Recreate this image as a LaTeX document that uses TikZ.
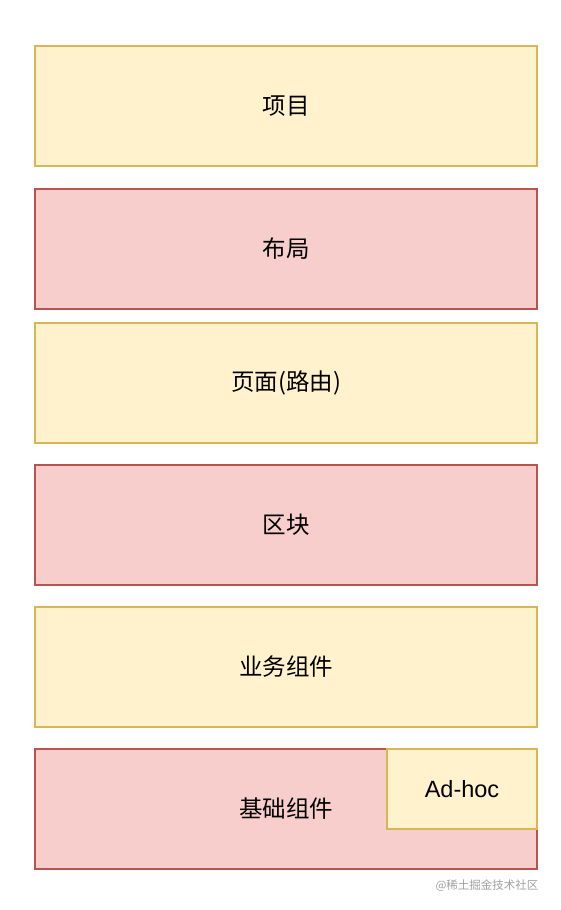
\documentclass[tikz,border=0pt]{standalone}
\usepackage{fontspec}
\setmainfont{Liberation Sans}
\newfontfamily\cjk{Noto Sans CJK SC}
\usetikzlibrary{positioning}
\definecolor{ylfill}{HTML}{FFF2CC}
\definecolor{yldraw}{HTML}{D6B656}
\definecolor{rdfill}{HTML}{F8CECC}
\definecolor{rddraw}{HTML}{B85450}
\definecolor{markgray}{HTML}{A0A0A0}

\begin{document}
\begin{tikzpicture}[x=1pt,y=1pt,
    layer/.style={draw, line width=1.5pt, outer sep=0pt, inner sep=0pt,
        minimum width=502pt, minimum height=120pt,
        font=\cjk\fontsize{23.5}{28}\selectfont},
    ylayer/.style={layer, fill=ylfill, draw=yldraw},
    rdlayer/.style={layer, fill=rdfill, draw=rddraw}]
            \useasboundingbox (0,0) rectangle (560,-910);
            \node[ylayer]  (project) at (286,-106) {项目};
            \node[rdlayer] (layout)  at (286,-249) {布局};
            \node[ylayer]  (page)    at (286,-383) {页面(路由)};
            \node[rdlayer] (block)   at (286,-525) {区块};
            \node[ylayer]  (biz)     at (286,-667) {业务组件};
            \node[rdlayer] (base)    at (286,-809) {基础组件};
            \node[ylayer, minimum width=150pt, minimum height=80pt,
                anchor=north east, font=\fontsize{23.5}{28}\selectfont]
                (adhoc) at (base.north east) {Ad-hoc};
            \node[anchor=east, text=markgray, font=\cjk\fontsize{11.5}{14}\selectfont]
                (mark) at (542,-886) {@稀土掘金技术社区};
        \end{tikzpicture}
\end{document}
